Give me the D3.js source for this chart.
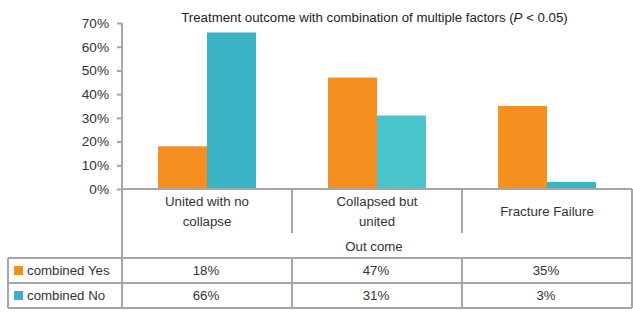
<!DOCTYPE html>
<html><head><meta charset="utf-8">
<script src="https://cdn.jsdelivr.net/npm/d3@7"></script>
<style>body{margin:0;background:#fff}svg{display:block;font-family:"Liberation Sans",Arial,sans-serif}</style>
</head><body><svg id="c" width="633" height="322"></svg>
<script>
const categories = ["United with no collapse", "Collapsed but united", "Fracture Failure"];
const categoryLines = [["United with no", "collapse"], ["Collapsed but", "united"], ["Fracture Failure"]];
const seriesNames = ["combined Yes", "combined No"];
const combinedYes = [0.18, 0.47, 0.35];
const combinedNo = [0.66, 0.31, 0.03];
const tickValues = [0, 0.1, 0.2, 0.3, 0.4, 0.5, 0.6, 0.7];
const yesColor = "#F58F20";
const noColors = ["#3AB3C4", "#4AC4CC", "#3AB3C4"];
const lineColor = "#a6a6a6";
const textColor = "#333";
const fs = "13.25px";

(function () {
const svg = d3.select("#c");
const left = 122, right = 632, plotTop = 23, base = 189;
const x = d3.scaleBand().domain(categories).range([left, right]).padding(0);
const bw = x.bandwidth();
const x1 = d3.scaleBand().domain(seriesNames).range([bw * 0.212, bw * 0.788]);
const y = d3.scaleLinear().domain([0, 0.7]).range([base, plotTop]);

const seriesVals = [combinedYes, combinedNo];
categories.forEach((c, i) => {
  seriesNames.forEach((s, j) => {
    const v = seriesVals[j][i];
    svg.append("rect")
      .attr("x", x(c) + x1(s)).attr("width", x1.bandwidth())
      .attr("y", y(v)).attr("height", base - y(v))
      .attr("fill", j === 0 ? yesColor : noColors[i]);
  });
});

const ax = svg.append("g").attr("transform", `translate(${left},0)`)
  .call(d3.axisLeft(y).tickValues(tickValues).tickFormat(d3.format(".0%")).tickSize(5).tickPadding(8));
ax.select(".domain").remove();
ax.selectAll("line").attr("stroke", lineColor).attr("stroke-width", 2);
ax.selectAll("text").attr("fill", textColor).style("font-size", "13.6px").style("font-family", '"Liberation Sans",Arial,sans-serif');

const line = (xa, ya, xb, yb) => svg.append("line")
  .attr("x1", xa).attr("y1", ya).attr("x2", xb).attr("y2", yb)
  .attr("stroke", lineColor).attr("stroke-width", 2);

line(left, plotTop, left, 308);
line(left, base, right, base);
categories.forEach((c, i) => { if (i > 0) line(x(c), base, x(c), 233); });
line(right, base, right, 308);
const rowY = [258, 283, 308];
rowY.forEach(r => line(8, r, right, r));
line(8, 258, 8, 308);
categories.forEach((c, i) => { if (i > 0) line(x(c), 258, x(c), 308); });

categories.forEach((c, i) => {
  const lines = categoryLines[i];
  const cx = x(c) + bw / 2;
  const cy = 211.7;
  lines.forEach((t, k) => {
    svg.append("text").attr("x", cx).attr("y", cy + (k - (lines.length - 1) / 2) * 20)
      .attr("dy", "0.35em").attr("text-anchor", "middle").attr("fill", textColor)
      .style("font-size", fs).text(t);
  });
});
svg.append("text").attr("x", 374).attr("y", 246.7).attr("dy", "0.35em")
  .attr("text-anchor", "middle").attr("fill", textColor).style("font-size", fs).text("Out come");

const fmt = d3.format(".0%");
seriesNames.forEach((s, j) => {
  const cy = (rowY[j] + rowY[j + 1]) / 2;
  svg.append("rect").attr("x", 14).attr("y", cy - 4.5).attr("width", 9).attr("height", 9)
    .attr("fill", j === 0 ? yesColor : noColors[0]);
  svg.append("text").attr("x", 27).attr("y", cy).attr("dy", "0.35em").attr("fill", textColor)
    .style("font-size", fs).text(s);
  categories.forEach((c, i) => {
    svg.append("text").attr("x", x(c) + bw / 2 - 1).attr("y", cy).attr("dy", "0.35em")
      .attr("text-anchor", "middle").attr("fill", textColor).style("font-size", fs)
      .text(fmt(seriesVals[j][i]));
  });
});

const t = svg.append("text").attr("x", 374.5).attr("y", 21.7).attr("text-anchor", "middle")
  .attr("fill", "#222").style("font-size", fs);
t.append("tspan").text("Treatment outcome with combination of multiple factors (");
t.append("tspan").style("font-style", "italic").text("P");
t.append("tspan").text(" < 0.05)");
})();
</script></body></html>
